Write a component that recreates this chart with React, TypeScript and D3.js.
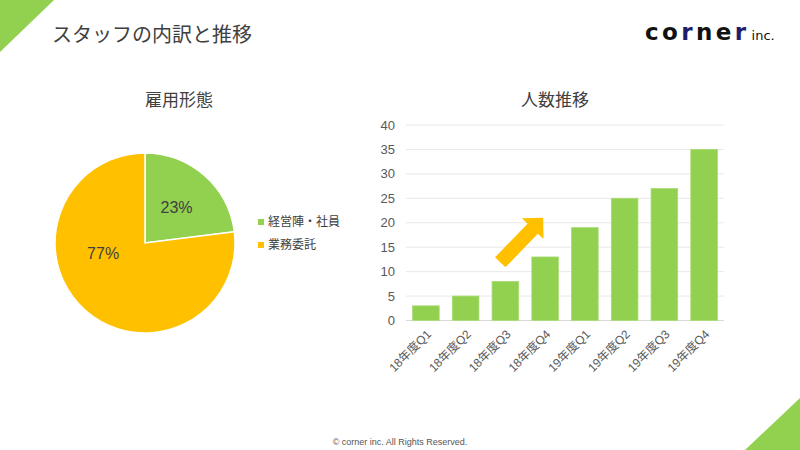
import React from 'react';
import * as d3 from 'd3';

const pageTitle = 'スタッフの内訳と推移';
const pieTitle = '雇用形態';
const barTitle = '人数推移';
const footer = '© corner inc. All Rights Reserved.';

const pieLabels = ['経営陣・社員', '業務委託'];
const pieValues = [23, 77];
const pieColors = ['#92D050', '#FFC000'];

const quarters = ['18年度Q1', '18年度Q2', '18年度Q3', '18年度Q4', '19年度Q1', '19年度Q2', '19年度Q3', '19年度Q4'];
const staffCounts = [3, 5, 8, 13, 19, 25, 27, 35];
const yTicks = [0, 5, 10, 15, 20, 25, 30, 35, 40];

// arrow annotation in data space: [bar index, value]
const arrowFrom: [number, number] = [1.87, 11.9];
const arrowTo: [number, number] = [2.95, 21];

const JP = '"Liberation Sans", "Noto Sans CJK JP", sans-serif';
const TEXT = '#404040';

const PieChart: React.FC = () => {
  const cx = 145, cy = 243, r = 90;
  const pie = d3.pie<number>().sort(null).startAngle(0).endAngle(Math.PI * 2);
  const arcs = pie(pieValues);
  const arc = d3.arc<d3.PieArcDatum<number>>().innerRadius(0).outerRadius(r);
  // label placement (polar, from slice mid angle)
  const labelAt = (a: d3.PieArcDatum<number>, i: number) => {
    const mid = (a.startAngle + a.endAngle) / 2 + (i === 1 ? 0.6 : 0);
    const rr = i === 1 ? r * 0.48 : r * 0.53;
    return [Math.sin(mid) * rr, -Math.cos(mid) * rr];
  };
  return (
    <g>
      <text x={179} y={106} textAnchor="middle" fontSize={17} fill={TEXT} fontFamily={JP}>{pieTitle}</text>
      <g transform={`translate(${cx},${cy})`}>
        {arcs.map((a, i) => (
          <path key={i} d={arc(a) || ''} fill={pieColors[i]} stroke="#fff" strokeWidth={1.5} />
        ))}
        {arcs.map((a, i) => {
          const [lx, ly] = labelAt(a, i);
          return (
            <text key={i} x={lx} y={ly} textAnchor="middle" dominantBaseline="central" fontSize={16} fill={TEXT} fontFamily={JP}>
              {d3.format('.0%')(a.data / d3.sum(pieValues))}
            </text>
          );
        })}
      </g>
      {pieLabels.map((l, i) => (
        <g key={l} transform={`translate(258,${222 + i * 23})`}>
          <rect x={0} y={-3} width={6} height={6} fill={pieColors[i]} />
          <text x={10} y={0} dominantBaseline="central" fontSize={12} fill={TEXT} fontFamily={JP}>{l}</text>
        </g>
      ))}
    </g>
  );
};

const BarChart: React.FC = () => {
  const x = d3.scaleBand<string>().domain(quarters).range([406, 724]).paddingInner(0.33).paddingOuter(0.165);
  const y = d3.scaleLinear().domain([0, 40]).range([320.5, 125]);
  const idx = d3.scaleLinear()
    .domain([0, quarters.length - 1])
    .range([x(quarters[0])! + x.bandwidth() / 2, x(quarters[quarters.length - 1])! + x.bandwidth() / 2]);

  const tx = idx(arrowFrom[0]), ty = y(arrowFrom[1]);
  const hx = idx(arrowTo[0]), hy = y(arrowTo[1]);
  const ang = Math.atan2(hy - ty, hx - tx);
  const len = Math.hypot(hx - tx, hy - ty);
  const headLen = 15, headW = 15, shaftW = 7.2;
  const sl = len - headLen;
  const arrowPts: [number, number][] = [
    [0, -shaftW], [sl, -shaftW], [sl, -headW], [len, 0], [sl, headW], [sl, shaftW], [0, shaftW],
  ];

  return (
    <g>
      <text x={555} y={106} textAnchor="middle" fontSize={17} fill={TEXT} fontFamily={JP}>{barTitle}</text>
      {yTicks.map(t => (
        <g key={t}>
          <line x1={406} x2={724} y1={y(t)} y2={y(t)} stroke={t === 0 ? '#d9d9d9' : '#e8e8e8'} strokeWidth={1} />
          <text x={395} y={y(t)} textAnchor="end" dominantBaseline="central" fontSize={13} fill="#595959" fontFamily={JP}>{t}</text>
        </g>
      ))}
      {staffCounts.map((v, i) => (
        <rect key={i} x={x(quarters[i])} y={y(v)} width={x.bandwidth()} height={y(0) - y(v)} fill="#92D050" stroke="#a9dc76" strokeWidth={0.8} />
      ))}
      {quarters.map(q => (
        <text key={q} transform={`translate(${x(q)! + x.bandwidth() / 2 + 6},${335}) rotate(-45)`} textAnchor="end" fontSize={12} fill="#595959" fontFamily={JP}>{q}</text>
      ))}
      <polygon
        points={arrowPts.map(p => p.join(',')).join(' ')}
        transform={`translate(${tx},${ty}) rotate(${(ang * 180) / Math.PI})`}
        fill="#FFC000"
      />
    </g>
  );
};

export default function App() {
  return (
    <svg width={800} height={450} style={{ position: 'absolute', left: 0, top: 0, background: '#fff' }}>
      <rect width={800} height={450} fill="#fff" />
      <polygon points="0,0 54,0 0,52" fill="#92D050" />
      <polygon points="800,398 800,450 745,450" fill="#92D050" />
      <text x={52} y={42} fontSize={20} fill={TEXT} fontFamily={JP}>{pageTitle}</text>
      <text x={645} y={40} fontSize={23} fontWeight="bold" letterSpacing={3.4} fontFamily='"DejaVu Sans", sans-serif' fill="#111">
        co<tspan fill="#1d1d6b">r</tspan>ne<tspan fill="#1d1d6b">r</tspan>
        <tspan fontSize={13} fontWeight="normal" letterSpacing={0} fill="#111" dx={2}>inc.</tspan>
      </text>
      <PieChart />
      <BarChart />
      <text x={400} y={445} textAnchor="middle" fontSize={9} fill="#555" fontFamily={JP}>{footer}</text>
    </svg>
  );
}
